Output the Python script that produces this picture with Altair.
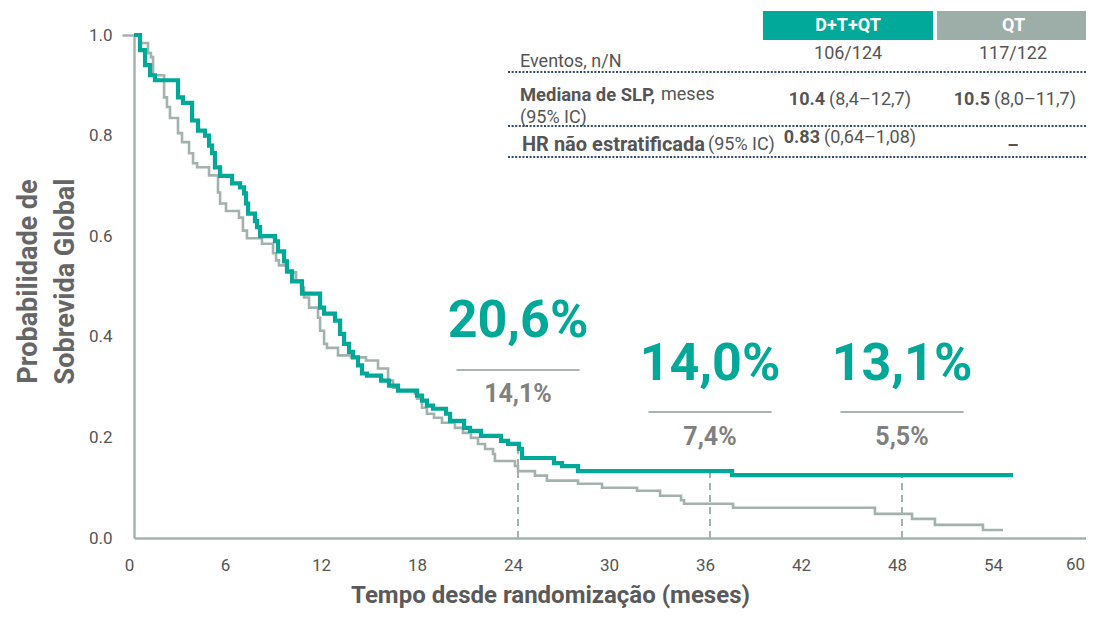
import altair as alt
import pandas as pd

# ---------------- data ----------------
# Kaplan-Meier curve, D+T+QT (months, survival probability)
teal_t = [0, 0.375, 0.69, 1.0, 1.31, 2.75, 3.06, 3.63, 4.0, 4.44, 4.69, 4.88, 5.06, 5.38,
          6.13, 6.63, 6.88, 7.0, 7.13, 7.56, 7.69, 7.88, 8.81, 9.0, 9.38, 9.56, 9.88, 10.5,
          11.63, 11.88, 12.56, 12.88, 13.13, 13.44, 13.69, 14.0, 14.25, 14.56, 15.44, 15.94,
          16.5, 17.69, 18.0, 18.31, 18.69, 19.5, 19.75, 20.63, 21.0, 21.69, 22.94, 23.38,
          24.06, 24.25, 26.25, 26.75, 27.75, 37.38, 54.94]
teal_s = [1.0, 0.97, 0.94, 0.92, 0.91, 0.876, 0.865, 0.83, 0.81, 0.80, 0.78, 0.765, 0.737, 0.72,
          0.705, 0.697, 0.685, 0.665, 0.645, 0.63, 0.618, 0.60, 0.59, 0.57, 0.55, 0.53, 0.51, 0.486,
          0.458, 0.446, 0.432, 0.406, 0.386, 0.37, 0.359, 0.343, 0.327, 0.323, 0.313, 0.303,
          0.293, 0.283, 0.273, 0.263, 0.257, 0.247, 0.233, 0.219, 0.213, 0.203, 0.193, 0.187,
          0.177, 0.159, 0.149, 0.143, 0.133, 0.125, 0.125]

# Kaplan-Meier curve, QT
gray_t = [0, 0.375, 0.875, 1.06, 1.19, 1.88, 2.06, 2.25, 2.75, 3.0, 3.44, 3.69, 3.94, 4.69,
          5.25, 5.38, 5.75, 6.56, 6.81, 7.06, 8.0, 8.69, 8.88, 9.06, 9.56, 10.13, 10.44, 10.63,
          10.94, 11.5, 11.63, 11.88, 12.06, 12.75, 13.56, 14.5, 15.25, 15.88, 16.19, 16.5,
          17.56, 17.69, 18.0, 18.31, 18.75, 19.25, 20.06, 20.56, 21.06, 21.5, 21.94, 22.44,
          22.56, 23.81, 24.0, 25.06, 25.81, 27.75, 29.25, 31.44, 32.88, 34.19, 34.38, 37.44,
          46.31, 48.63, 50.06, 53.06, 54.31]
gray_s = [1.0, 0.984, 0.964, 0.956, 0.92, 0.876, 0.857, 0.835, 0.805, 0.787, 0.765, 0.745, 0.737, 0.721,
          0.687, 0.665, 0.65, 0.637, 0.611, 0.596, 0.585, 0.566, 0.552, 0.542, 0.528, 0.512, 0.498, 0.478,
          0.458, 0.438, 0.412, 0.386, 0.378, 0.363, 0.359, 0.353, 0.337, 0.313, 0.299, 0.293,
          0.287, 0.277, 0.259, 0.247, 0.239, 0.229, 0.219, 0.209, 0.199, 0.187, 0.177, 0.167,
          0.153, 0.143, 0.133, 0.124, 0.114, 0.108, 0.100, 0.094, 0.084, 0.075, 0.068, 0.060,
          0.048, 0.038, 0.026, 0.016, 0.016]

# landmark annotations
land_t = [24, 36, 48]
teal_pct = ["20,6%", "14,0%", "13,1%"]
gray_pct = ["14,1%", "7,4%", "5,5%"]
big_y = [0.400, 0.314, 0.314]
sep_y = [0.334, 0.2505, 0.2505]
small_y = [0.270, 0.185, 0.185]
sep_half = 3.85

x_ticks = [0, 6, 12, 18, 24, 30, 36, 42, 48, 54]
x_edge_tick = [60]          # last tick, sits on the right edge of the picture
y_ticks = [0.0, 0.2, 0.4, 0.6, 0.8, 1.0]

# summary table (positions in axis units)
hdr_labels = ["D+T+QT", "QT"]
hdr_x = [39.31, 50.19]
hdr_x2 = [49.94, 59.5]
hdr_cx = [44.63, 54.97]
hdr_y, hdr_y2, hdr_cy = 1.0477, 0.990, 1.018
hdr_fill = ["#00a99a", "#9dada8"]

TEAL = "#00a898"
GRAY = "#a2b2ad"
AXIS = "#a5b3af"
TXT = "#555555"
NAVY = "#2f4c70"

# ---------------- frames ----------------
teal_df = pd.DataFrame({"t": teal_t, "s": teal_s})
gray_df = pd.DataFrame({"t": gray_t, "s": gray_s})


def teal_at(t):
    v = teal_s[0]
    for tt, ss in zip(teal_t, teal_s):
        if tt < t:
            v = ss
    return v


dash_df = pd.DataFrame({"t": land_t, "zero": [0] * 3, "top": [teal_at(t) for t in land_t]})
ann_df = pd.DataFrame({
    "t": land_t, "big": teal_pct, "small": gray_pct,
    "by": big_y, "sy": sep_y, "smy": small_y,
    "l0": [t - sep_half for t in land_t], "l1": [t + sep_half for t in land_t],
})
hdr_df = pd.DataFrame({"lab": hdr_labels, "x": hdr_x, "x2": hdr_x2, "cx": hdr_cx,
                       "y": [hdr_y] * 2, "y2": [hdr_y2] * 2, "cy": [hdr_cy] * 2, "fill": hdr_fill})
edge_df = pd.DataFrame({"t": x_edge_tick, "zero": [0] * len(x_edge_tick),
                        "lab": [str(v) for v in x_edge_tick]})

tbl_left_reg = pd.DataFrame({
    "txt": ["Eventos, n/N", "meses", "(95% IC)", "(95% IC)"],
    "x": [24.125, 32.94, 24.125, 35.875],
    "y": [0.9463, 0.8807, 0.835, 0.7813]})
tbl_bold_a = pd.DataFrame({"txt": ["Mediana de SLP,"], "x": [24.125], "y": [0.8807]})
tbl_bold_b = pd.DataFrame({"txt": ["HR não estratificada"], "x": [24.25], "y": [0.7813]})
tbl_center_reg = pd.DataFrame({
    "txt": ["106/124", "117/122"], "x": [44.63, 54.94], "y": [0.9622, 0.9622]})
tbl_center_bold = pd.DataFrame({"txt": ["–"], "x": [54.94], "y": [0.7793]})
tbl_right_bold = pd.DataFrame({
    "txt": ["10.4", "10.5", "0.83"], "x": [43.19, 53.5, 42.875], "y": [0.8708, 0.8708, 0.7952]})
tbl_after_reg = pd.DataFrame({
    "txt": ["(8,4–12,7)", "(8,0–11,7)", "(0,64–1,08)"], "x": [43.44, 53.75, 43.125],
    "y": [0.8708, 0.8708, 0.7952]})
dot_df = pd.DataFrame({"x": [23.375] * 3, "x2": [59.5] * 3, "y": [0.9264, 0.8191, 0.7575]})

# ---------------- scales / axes ----------------
xs = alt.Scale(domain=[0, 59.5], nice=False)
ys = alt.Scale(domain=[0, 1], nice=False)

x_axis = alt.Axis(values=x_ticks, ticks=False, grid=False, domainColor=AXIS, domainWidth=2.5,
                  labelFont="Roboto", labelFontSize=17, labelColor=TXT, labelPadding=19,
                  labelOffset=-5, labelAngle=0, labelBound=False, labelFlush=False,
                  title="Tempo desde randomização (meses)", titleFont="Roboto", titleFontSize=24,
                  titleFontWeight="bold", titleColor="#5a5a5a", titleX=416, titleY=64,
                  titleBaseline="alphabetic", titleAnchor="middle")
y_axis = alt.Axis(values=y_ticks, format=".1f", grid=False, domainColor=AXIS, domainWidth=2.5,
                  ticks=True, tickSize=12, tickWidth=2.5,
                  tickColor={"expr": f"datum.value == 1 ? '{AXIS}' : 'transparent'"},
                  labelFont="Roboto", labelFontSize=17, labelColor=TXT, labelPadding=10,
                  title=["Probabilidade de", "Sobrevida Global"], titleFont="Roboto",
                  titleFontSize=27, titleFontWeight="bold", titleColor="#666666",
                  titleAngle=270, titleX=-106, titleY=246, titleBaseline="middle",
                  titleAlign="center", titleLineHeight=37)

X = lambda f: alt.X(f, type="quantitative", scale=xs, axis=x_axis)
Y = lambda f: alt.Y(f, type="quantitative", scale=ys, axis=y_axis)

gray_line = alt.Chart(gray_df).mark_line(interpolate="step-after", color=GRAY, strokeWidth=2.6).encode(
    x=X("t"), y=Y("s"))
teal_line = alt.Chart(teal_df).mark_line(interpolate="step-after", color=TEAL, strokeWidth=4.2).encode(
    x=X("t"), y=Y("s"))

dashes = alt.Chart(dash_df).mark_rule(color=GRAY, strokeWidth=2, strokeDash=[7, 5]).encode(
    x=X("t"), y=Y("zero"), y2="top:Q")

big_txt = alt.Chart(ann_df).mark_text(font="Roboto", fontSize=52, fontWeight="bold", color=TEAL,
                                      align="center", baseline="alphabetic").encode(
    x=X("t"), y=Y("by"), text="big:N")
sep = alt.Chart(ann_df).mark_rule(color="#aab6b3", strokeWidth=2).encode(x=X("l0"), x2="l1:Q", y=Y("sy"))
small_txt = alt.Chart(ann_df).mark_text(font="Roboto", fontSize=25, fontWeight="bold", color="#808080",
                                        align="center", baseline="alphabetic").encode(
    x=X("t"), y=Y("smy"), text="small:N")

edge_lab = alt.Chart(edge_df).mark_text(font="Roboto", fontSize=17, color=TXT, align="right",
                                        baseline="top", dx=-9, dy=19).encode(
    x=X("t"), y=Y("zero"), text="lab:N")

hdr_rect = alt.Chart(hdr_df).mark_rect().encode(
    x=X("x"), x2="x2:Q", y=Y("y"), y2="y2:Q",
    color=alt.Color("fill:N", scale=None))
hdr_txt = alt.Chart(hdr_df).mark_text(font="Roboto", fontSize=18, fontWeight="bold", color="white",
                                      align="center", baseline="middle").encode(
    x=X("cx"), y=Y("cy"), text="lab:N")


def txt(df, align, bold, size=18):
    return alt.Chart(df).mark_text(font="Roboto", fontSize=size, fontWeight="bold" if bold else "normal",
                                   color=TXT, align=align, baseline="middle").encode(
        x=X("x"), y=Y("y"), text="txt:N")


dots = alt.Chart(dot_df).mark_rule(color=NAVY, strokeWidth=2, strokeDash=[2, 1.6]).encode(
    x=X("x"), x2="x2:Q", y=Y("y"))

chart = alt.layer(
    gray_line, dashes, teal_line, sep, big_txt, small_txt, edge_lab,
    hdr_rect, hdr_txt,
    txt(tbl_left_reg, "left", False), txt(tbl_bold_a, "left", True, 18.4),
    txt(tbl_bold_b, "left", True, 20),
    txt(tbl_center_reg, "center", False), txt(tbl_center_bold, "center", True),
    txt(tbl_right_bold, "right", True), txt(tbl_after_reg, "left", False),
    dots,
).properties(
    width=952, height=503,
    autosize=alt.AutoSizeParams(type="none"),
    padding={"left": 126, "top": 27, "right": 0, "bottom": 72},
    background="white",
).configure_view(stroke=None)

chart.save("out.html", embed_options={"renderer": "svg", "actions": False})
